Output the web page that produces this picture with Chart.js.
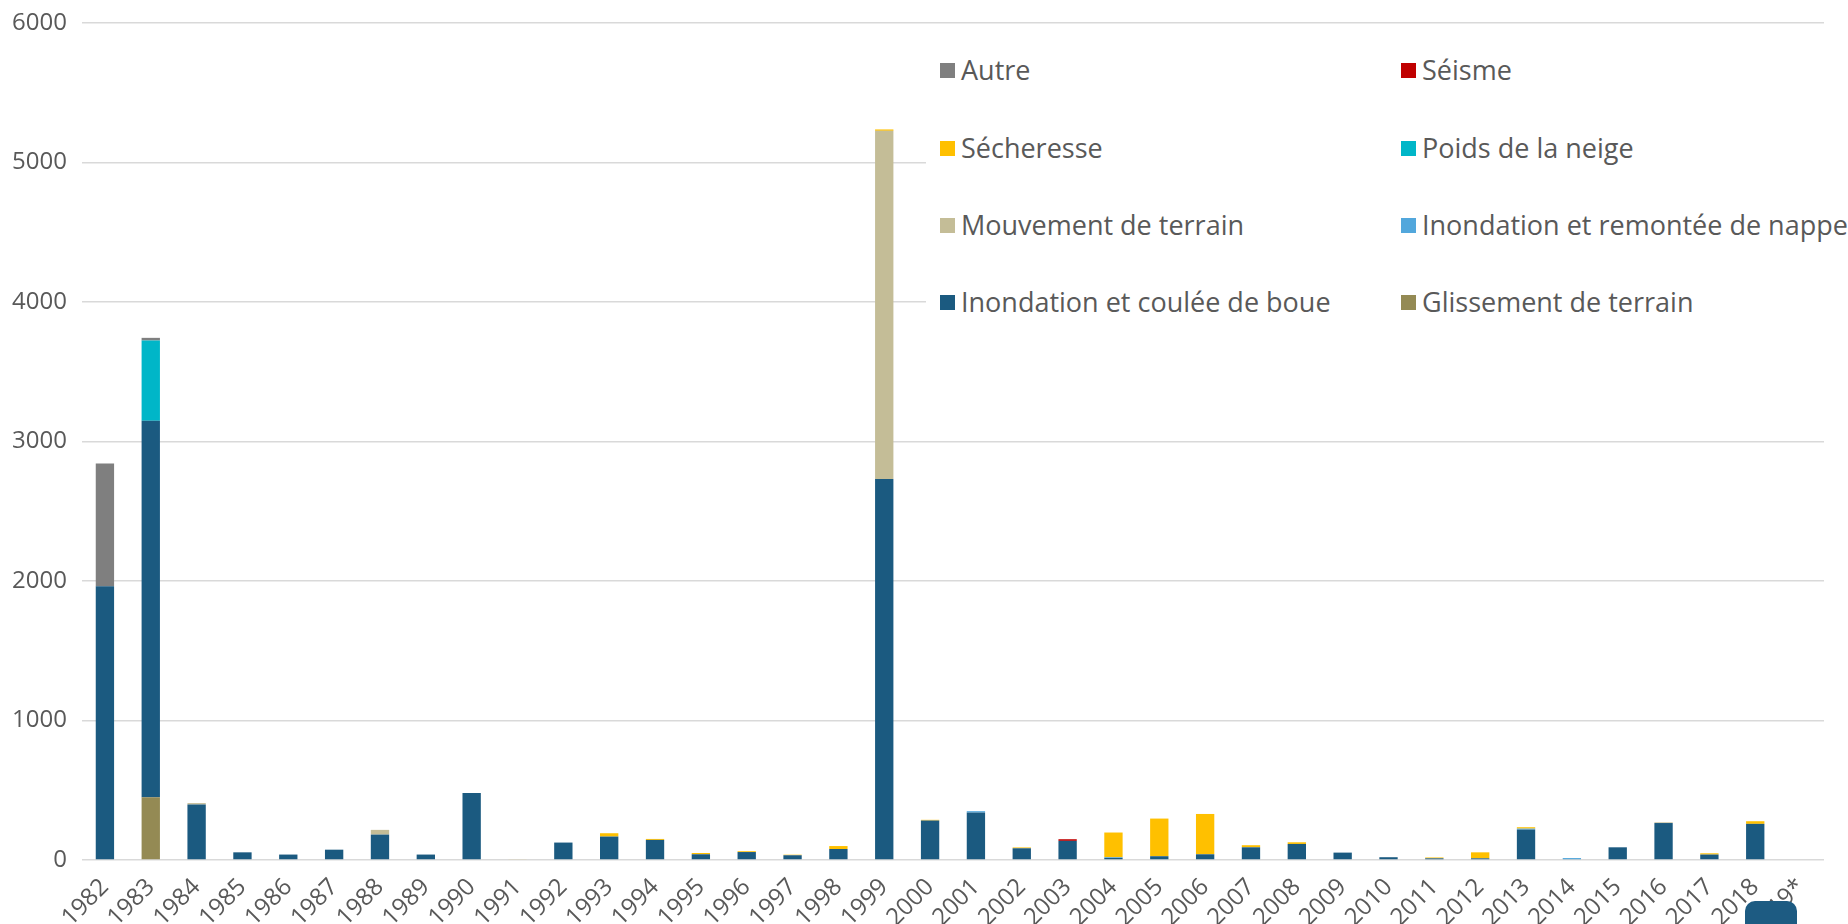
<!DOCTYPE html>
<html>
<head>
<meta charset="utf-8">
<script src="https://cdn.jsdelivr.net/npm/chart.js@4"></script>
<style>
  html, body { margin: 0; padding: 0; background: #fff; }
  #wrap { position: relative; width: 1848px; height: 924px; }
  #legend { position: absolute; left: 926px; top: 36px; width: 922px; height: 300px; background: #fff;
            font-family: "Open Sans", sans-serif; font-size: 27px; color: #595959; }
  .item { position: absolute; height: 34px; line-height: 34px; display: flex; align-items: center; white-space: nowrap; }
  .item .box { width: 15px; height: 15px; margin-right: 6px; flex: none; }
  #logo { position: absolute; left: 1745px; top: 901px; width: 52px; height: 23px; background: #1d5b82;
          border-radius: 10px 10px 0 0; }
</style>
</head>
<body>
<div id="wrap">
  <canvas id="chart" width="1848" height="924"></canvas>
  <div id="legend"></div>
  <div id="logo"></div>
</div>
<script>
var years = ["1982", "1983", "1984", "1985", "1986", "1987", "1988", "1989", "1990", "1991",
  "1992", "1993", "1994", "1995", "1996", "1997", "1998", "1999", "2000", "2001",
  "2002", "2003", "2004", "2005", "2006", "2007", "2008", "2009", "2010", "2011",
  "2012", "2013", "2014", "2015", "2016", "2017", "2018", "2019*"];

// series, bottom of the stack first
var glissement = [0, 450, 0, 0, 0, 0, 0, 0, 0, 0, 0, 0, 0, 0, 0, 0, 0, 0, 0, 0,
  0, 0, 0, 0, 0, 0, 0, 0, 0, 0, 0, 0, 0, 0, 0, 0, 0, 0];
var coulee = [1962, 2698, 398, 55, 39, 74, 182, 39, 481, 0, 125, 168, 144, 41, 57, 34, 79, 2732, 283, 340,
  84, 137, 15, 27, 41, 91, 115, 53, 20, 12, 12, 218, 6, 91, 265, 39, 259, 0];
var remontee = [0, 0, 0, 0, 0, 0, 0, 0, 0, 0, 0, 0, 0, 0, 0, 0, 0, 0, 0, 10,
  0, 0, 5, 0, 0, 0, 0, 0, 0, 0, 0, 7, 8, 0, 0, 0, 0, 0];
var mouvement = [0, 0, 10, 0, 0, 0, 34, 0, 0, 0, 0, 0, 0, 0, 0, 0, 0, 2495, 0, 0,
  0, 0, 0, 0, 0, 0, 0, 0, 0, 0, 0, 0, 0, 0, 5, 0, 0, 0];
var neige = [0, 576, 0, 0, 0, 0, 0, 0, 0, 0, 0, 0, 0, 0, 0, 0, 0, 0, 0, 0,
  0, 0, 0, 0, 0, 0, 0, 0, 0, 0, 0, 0, 0, 0, 0, 0, 0, 0];
var secheresse = [0, 0, 0, 0, 0, 0, 0, 0, 0, 5, 0, 24, 7, 9, 6, 4, 21, 10, 5, 0,
  6, 0, 177, 270, 289, 15, 12, 0, 0, 6, 43, 10, 0, 0, 0, 9, 19, 0];
var seisme = [0, 0, 0, 0, 0, 0, 0, 0, 0, 0, 0, 0, 0, 0, 0, 0, 0, 0, 0, 0,
  0, 12, 0, 0, 0, 0, 0, 0, 0, 0, 0, 0, 0, 0, 0, 0, 0, 0];
var autre = [880, 19, 0, 0, 0, 0, 0, 0, 0, 0, 0, 0, 0, 0, 0, 0, 0, 0, 0, 0,
  0, 0, 0, 0, 0, 0, 0, 0, 0, 0, 0, 0, 0, 0, 0, 0, 0, 0];

var seriesNames = ["Glissement de terrain", "Inondation et coulée de boue", "Inondation et remontée de nappe",
  "Mouvement de terrain", "Poids de la neige", "Sécheresse", "Séisme", "Autre"];
var seriesValues = [glissement, coulee, remontee, mouvement, neige, secheresse, seisme, autre];
var seriesColors = ["#948a54", "#1b5a80", "#52a7dc", "#c4bd97", "#00b6c8", "#ffc000", "#c00000", "#7f7f7f"];

var yTicks = [0, 1000, 2000, 3000, 4000, 5000, 6000];

var datasets = seriesNames.map(function (name, i) {
  return {
    label: name,
    data: seriesValues[i],
    backgroundColor: seriesColors[i],
    borderWidth: 0,
    categoryPercentage: 1,
    barPercentage: 0.4
  };
});

// legende sur 2 colonnes, haut de la pile en premier (comme Excel)
var legendEl = document.getElementById("legend");
var legendOrder = [7, 6, 5, 4, 3, 2, 1, 0];
var rowTops = [17, 95, 172, 249];
legendOrder.forEach(function (idx, k) {
  var item = document.createElement("div");
  item.className = "item";
  item.style.left = (k % 2 === 0 ? 14 : 475) + "px";
  item.style.top = rowTops[Math.floor(k / 2)] + "px";
  var box = document.createElement("span");
  box.className = "box";
  box.style.background = seriesColors[idx];
  item.appendChild(box);
  item.appendChild(document.createTextNode(seriesNames[idx]));
  legendEl.appendChild(item);
});

var tickFont = { family: "Open Sans", size: 24 };

new Chart(document.getElementById("chart").getContext("2d"), {
  type: "bar",
  data: { labels: years, datasets: datasets },
  options: {
    responsive: false,
    animation: false,
    layout: { padding: { top: 23, right: 24, left: 0, bottom: 0 } },
    plugins: { legend: { display: false }, tooltip: { enabled: false } },
    scales: {
      x: {
        stacked: true,
        grid: { display: false },
        border: { display: false },
        ticks: { color: "#595959", font: tickFont, minRotation: 45, maxRotation: 45, autoSkip: false, padding: 5 },
        afterFit: function (s) { s.height = 64; s.paddingLeft = 0; s.paddingRight = 0; }
      },
      y: {
        stacked: true,
        min: 0,
        max: 6000,
        afterBuildTicks: function (s) { s.ticks = yTicks.map(function (v) { return { value: v }; }); },
        grid: { color: "#d9d9d9", lineWidth: 1.5, drawTicks: false },
        border: { display: false },
        ticks: { color: "#595959", font: tickFont, padding: 15, callback: function (v) { return String(v); } },
        afterFit: function (s) { s.width = 82; s.paddingTop = 0; s.paddingBottom = 0; }
      }
    }
  }
});
</script>
</body>
</html>
